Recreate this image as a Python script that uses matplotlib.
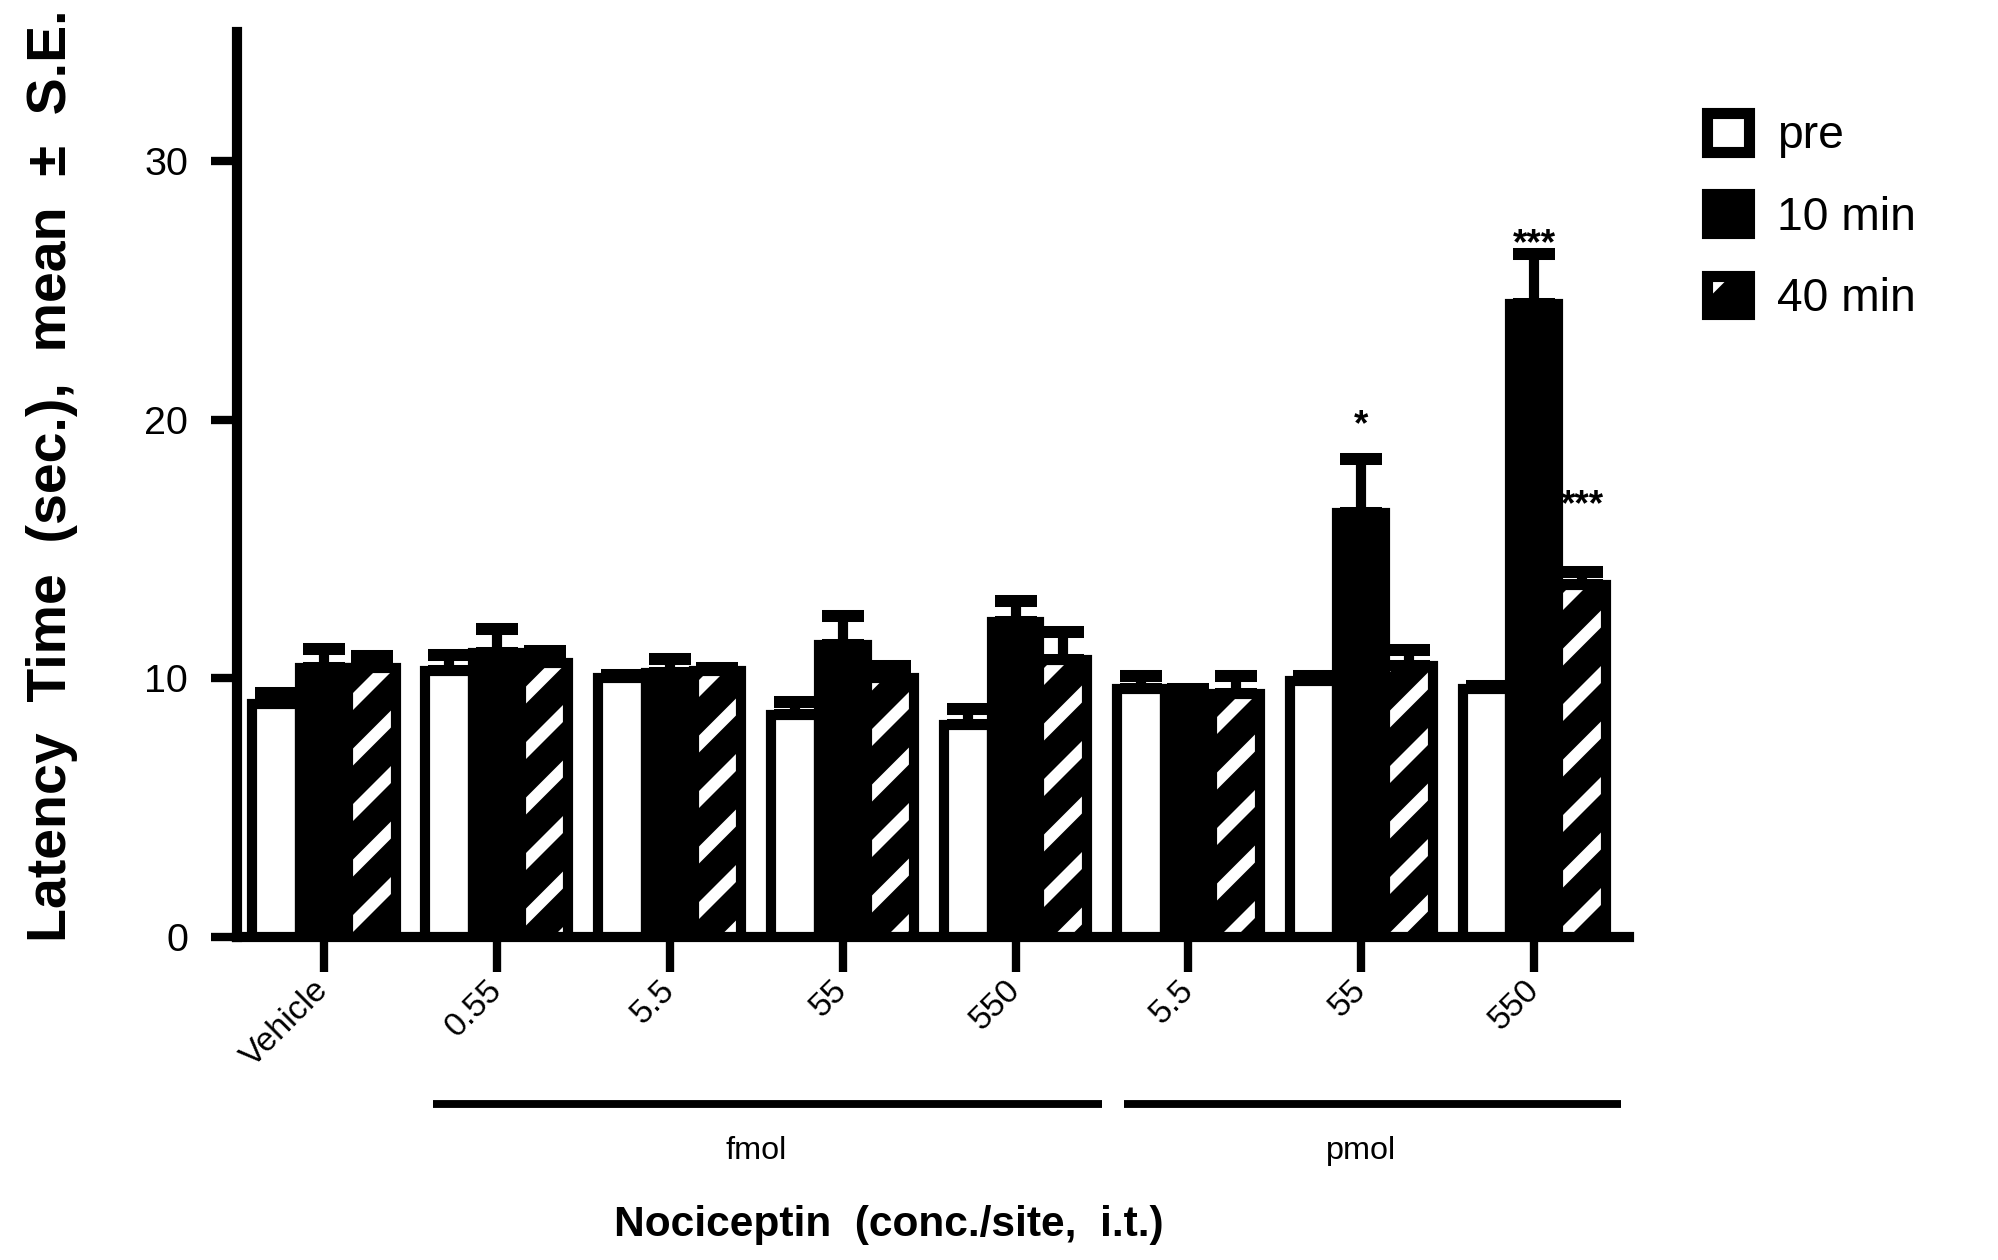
import numpy as np
import matplotlib
matplotlib.use("Agg")
import matplotlib.pyplot as plt
from matplotlib.patches import Patch
from matplotlib.legend_handler import HandlerTuple

# Tail-flick latency after intrathecal nociceptin
doses = ["Vehicle", "0.55", "5.5", "55", "550", "5.5", "55", "550"]
units = ["", "fmol", "fmol", "fmol", "fmol", "pmol", "pmol", "pmol"]
series = ["pre", "10 min", "40 min"]

pre_mean = [9.0, 10.3, 10.0, 8.6, 8.2, 9.6, 9.9, 9.6]
pre_se = [0.45, 0.6, 0.15, 0.5, 0.6, 0.5, 0.2, 0.1]
m10_mean = [10.4, 11.0, 10.2, 11.3, 12.2, 9.3, 16.4, 24.5]
m10_se = [0.75, 0.9, 0.55, 1.1, 0.8, 0.3, 2.1, 1.9]
m40_mean = [10.4, 10.6, 10.3, 10.0, 10.7, 9.4, 10.5, 13.6]
m40_se = [0.45, 0.45, 0.1, 0.5, 1.1, 0.7, 0.6, 0.5]

# (dose index, series index, marker text)
sig_marks = [(6, 1, "*"), (7, 1, "***"), (7, 2, "***")]
sig_gap = [0.9, 0.0, 2.2]

yticks = [0, 10, 20, 30]

W, H, DPI = 1998, 1260, 333
plt.rcParams["font.family"] = ["Liberation Sans", "DejaVu Sans"]
plt.rcParams["hatch.linewidth"] = 2.6

fig = plt.figure(figsize=(W / DPI, H / DPI), dpi=DPI)
ax = fig.add_axes([237 / W, 1 - 937 / H, (1629 - 237) / W, (937 - 32) / H])

x = np.arange(len(doses))
bw = 0.276
lw = 2.2
means = [np.array(pre_mean), np.array(m10_mean), np.array(m40_mean)]
ses = [np.array(pre_se), np.array(m10_se), np.array(m40_se)]
offsets = [-bw, 0.0, bw]

# error bars (upper only), drawn under the bars
for m, s, off in zip(means, ses, offsets):
    ax.errorbar(x + off, m, yerr=[np.zeros_like(s), s], fmt="none",
                ecolor="black", elinewidth=2.2, capsize=4.6, capthick=2.6,
                zorder=2)

ax.bar(x + offsets[0], means[0], bw, color="white", edgecolor="black",
       linewidth=lw, zorder=3)
ax.bar(x + offsets[1], means[1], bw, color="black", edgecolor="black",
       linewidth=lw, zorder=3)
ax.bar(x + offsets[2], means[2], bw, color="black", edgecolor="white",
       hatch="//", linewidth=0, zorder=3)
ax.bar(x + offsets[2], means[2], bw, fill=False, edgecolor="black",
       linewidth=lw, zorder=3.1)

for (g, s, txt), gap in zip(sig_marks, sig_gap):
    ax.text(x[g] + offsets[s], means[s][g] + ses[s][g] + gap, txt,
            ha="center", va="baseline", fontsize=8, fontweight="bold",
            zorder=5)

ax.set_xlim(-0.503, 7.548)
ax.set_ylim(0, 35.0)
for side in ("top", "right"):
    ax.spines[side].set_visible(False)
for side in ("left", "bottom"):
    ax.spines[side].set_linewidth(2.2)

ax.set_yticks(yticks)
ax.set_yticklabels([str(t) for t in yticks], fontsize=8.5)
ax.tick_params(axis="y", length=5.6, width=1.8, pad=5)
ax.set_xticks(x)
ax.set_xticklabels(doses, fontsize=7.3)
ax.tick_params(axis="x", length=7.5, width=1.8, pad=3)
plt.setp(ax.get_xticklabels(), rotation=45, ha="right", va="center",
         rotation_mode="anchor")

# unit brackets under the dose labels
trans = ax.get_xaxis_transform()
for unit in ("fmol", "pmol"):
    idx = [i for i, u in enumerate(units) if u == unit]
    ax.plot([min(idx) - 0.37, max(idx) + 0.5], [-0.1845, -0.1845],
            transform=trans, clip_on=False, color="black", lw=1.7,
            solid_capstyle="butt")
    ax.text((min(idx) + max(idx)) / 2, -0.237, unit, transform=trans,
            ha="center", va="center", fontsize=7)

ax.set_xlabel("Nociceptin  (conc./site,  i.t.)", fontsize=9.2,
              fontweight="bold")
ax.xaxis.set_label_coords(0.468, -0.296)
ax.set_ylabel("Latency  Time  (sec.),  mean  \u00b1  S.E.", fontsize=12,
              fontweight="bold")
ax.yaxis.set_label_coords(-0.114, 0.51)

handles = [
    Patch(facecolor="white", edgecolor="black", linewidth=2.4),
    Patch(facecolor="black", edgecolor="black", linewidth=2.4),
    (Patch(facecolor="black", edgecolor="white", hatch="/", linewidth=0),
     Patch(fill=False, edgecolor="black", linewidth=2.4)),
]
fig.legend(handles, series, loc="upper left",
           bbox_to_anchor=(1707 / W, 1 - 113 / H), frameon=False,
           fontsize=10, handlelength=0.91, handleheight=0.91,
           labelspacing=0.78, handletextpad=0.6, borderpad=0,
           borderaxespad=0, handler_map={tuple: HandlerTuple(ndivide=1)})

fig.savefig("out.png", dpi=DPI, facecolor="white")
